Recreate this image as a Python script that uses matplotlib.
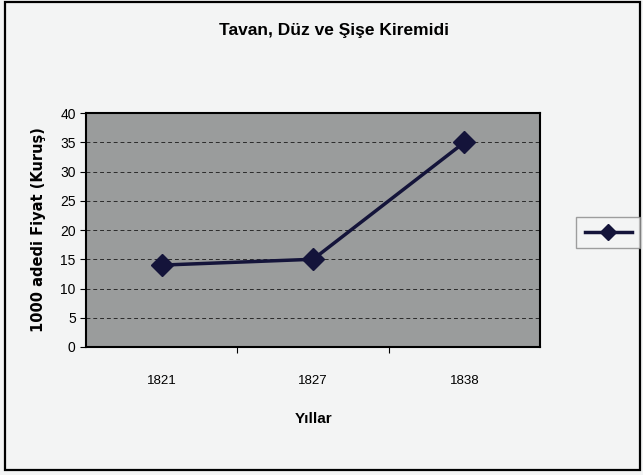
import matplotlib
matplotlib.use("Agg")
import matplotlib.pyplot as plt
from matplotlib.patches import Rectangle
from matplotlib.lines import Line2D

years = ["1821", "1827", "1838"]
prices = [14, 15, 35]
yticks = [0, 5, 10, 15, 20, 25, 30, 35, 40]

font = "Liberation Sans"

fig = plt.figure(figsize=(6.43, 4.75), dpi=100)
fig.patch.set_facecolor("#f3f4f4")
fig.patches.append(Rectangle((0.008, 0.01), 0.988, 0.985, transform=fig.transFigure,
                             fill=False, edgecolor="black", linewidth=1.6))

ax = fig.add_axes([0.134, 0.2695, 0.706, 0.4925])
ax.set_facecolor("#9a9c9c")
x = list(range(len(years)))
ax.plot(x, prices, color="#14143a", linewidth=2.5, marker="D", markersize=11,
        markerfacecolor="#14143a", markeredgecolor="#14143a", zorder=3)
ax.set_xlim(-0.5, 2.5)
ax.set_ylim(0, 40)
ax.set_yticks(yticks)
ax.set_yticklabels([str(v) for v in yticks], fontfamily=font, fontsize=10)
ax.set_xticks([0.5, 1.5], minor=False)
ax.set_xticklabels(["", ""])
ax.set_xticks(x, minor=True)
ax.set_xticklabels(years, minor=True, fontfamily=font, fontsize=9.5)
ax.tick_params(axis="x", which="minor", length=0, pad=20)
ax.tick_params(axis="x", which="major", length=4, direction="out")
ax.tick_params(axis="y", length=4, direction="out")
for v in yticks[1:-1]:
    ax.axhline(v, color="#2a2a2a", linestyle=(0, (4, 3)), linewidth=0.7, zorder=1)
for s in ax.spines.values():
    s.set_color("black")
    s.set_linewidth(1.5)

ax.set_xlabel("Yıllar", fontfamily=font, fontweight="bold", fontsize=11, labelpad=18)
ax.set_ylabel("1000 adedi Fiyat (Kuruş)", fontfamily="DejaVu Sans",
              fontweight="bold", fontsize=10.5, labelpad=10)
fig.text(0.52, 0.935, "Tavan, Düz ve Şişe Kiremidi", ha="center", va="center",
         fontfamily=font, fontweight="bold", fontsize=12.5)

h = Line2D([], [], color="#14143a", linewidth=2.5, marker="D", markersize=8)
leg = fig.legend([h], [""], loc="center", bbox_to_anchor=(0.946, 0.51),
                 frameon=True, fancybox=False, handlelength=3.4, handletextpad=0,
                 borderpad=0.6, columnspacing=0)
leg.get_frame().set_edgecolor("#888888")
leg.get_frame().set_facecolor("#f3f4f4")

fig.savefig("out.png", dpi=100, facecolor=fig.get_facecolor())
